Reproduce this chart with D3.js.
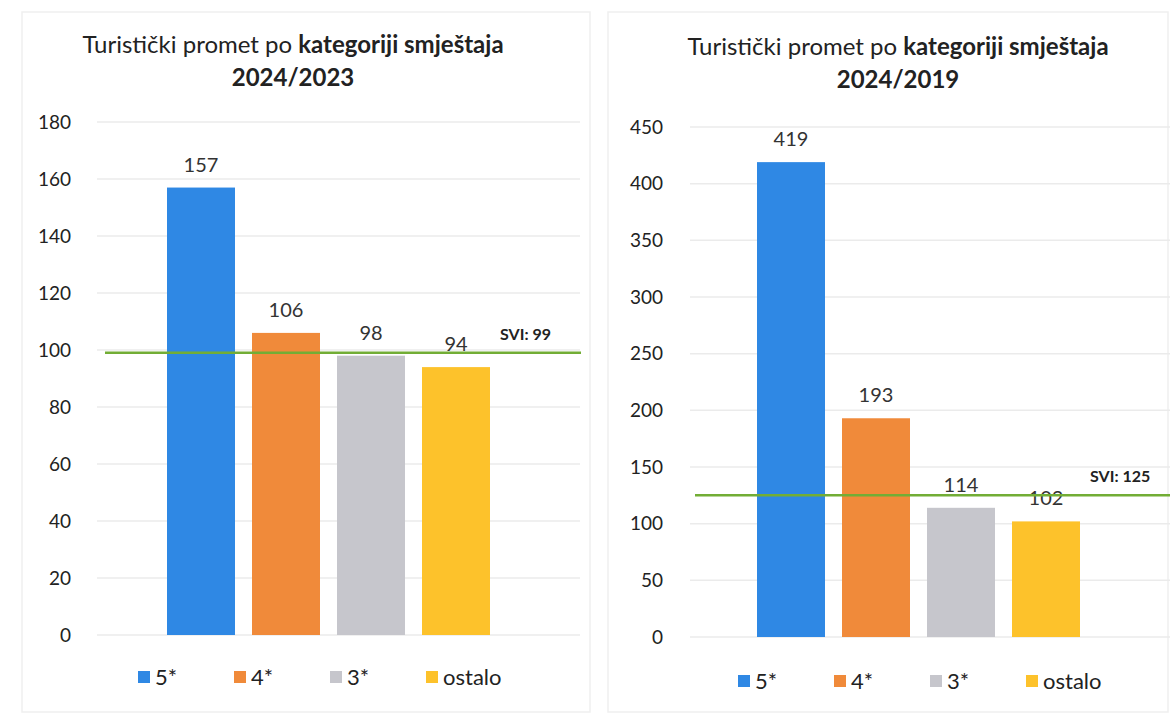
<!DOCTYPE html>
<html>
<head>
<meta charset="utf-8">
<script src="https://cdn.jsdelivr.net/npm/d3@7"></script>
<style>
  body { margin: 0; background: #fff; }
  svg { display: block; font-family: Lato, "Open Sans", sans-serif; }
  .tick text { fill: #222; }
</style>
</head>
<body>
<svg id="chart" width="1174" height="722"></svg>
<script>
// data
var categories = ["5*", "4*", "3*", "ostalo"];
var values2023 = [157, 106, 98, 94];
var values2019 = [419, 193, 114, 102];
var ticks2023 = [0, 20, 40, 60, 80, 100, 120, 140, 160, 180];
var ticks2019 = [0, 50, 100, 150, 200, 250, 300, 350, 400, 450];
var svi2023 = 99;
var svi2019 = 125;
var colors = ["#2f88e4", "#f08a3a", "#c6c6cc", "#fdc22b"];

var svg = d3.select("#chart");

function drawPanel(p) {
  var g = svg.append("g");

  // faint panel border like the scanned page
  g.append("rect")
    .attr("x", p.box[0]).attr("y", p.box[1])
    .attr("width", p.box[2]).attr("height", p.box[3])
    .attr("fill", "none").attr("stroke", "#efefef").attr("stroke-width", 1.5);

  var y = d3.scaleLinear().domain([0, p.max]).range([p.bottom, p.top]);
  var x = d3.scaleBand().domain(categories).range(p.bandRange).padding(0.2);

  // title
  var t = g.append("text").attr("x", p.titleX).attr("y", p.titleY)
    .attr("text-anchor", "middle").attr("font-size", 24).attr("fill", "#222");
  t.append("tspan").text("Turistički promet po ");
  t.append("tspan").attr("font-weight", "bold").text("kategoriji smještaja");
  g.append("text").attr("x", p.titleX).attr("y", p.titleY + 33)
    .attr("text-anchor", "middle").attr("font-size", 24).attr("font-weight", "bold")
    .attr("fill", "#222").text(p.period);

  // gridlines
  g.selectAll(".grid").data(p.ticks).enter().append("line")
    .attr("x1", p.gridX[0]).attr("x2", p.gridX[1])
    .attr("y1", function (d) { return y(d); }).attr("y2", function (d) { return y(d); })
    .attr("stroke", "#ebebeb").attr("stroke-width", 1.5);

  // y axis
  var ax = g.append("g").attr("transform", "translate(" + p.axisX + ",0)")
    .call(d3.axisLeft(y).tickValues(p.ticks).tickSize(0).tickPadding(0));
  ax.select(".domain").remove();
  ax.selectAll("text").attr("font-size", 19).attr("font-family", "Lato, sans-serif");

  // bars
  g.selectAll(".bar").data(p.values).enter().append("rect")
    .attr("x", function (d, i) { return x(categories[i]); })
    .attr("width", x.bandwidth())
    .attr("y", function (d) { return y(d); })
    .attr("height", function (d) { return p.bottom - y(d); })
    .attr("fill", function (d, i) { return colors[i]; });

  // value labels
  g.selectAll(".val").data(p.values).enter().append("text")
    .attr("x", function (d, i) { return x(categories[i]) + x.bandwidth() / 2; })
    .attr("y", function (d) { return y(d) - 16; })
    .attr("text-anchor", "middle").attr("font-size", 20).attr("fill", "#333")
    .text(function (d) { return d; });

  // SVI line
  g.append("line")
    .attr("x1", p.lineX[0]).attr("x2", p.lineX[1])
    .attr("y1", y(p.svi)).attr("y2", y(p.svi))
    .attr("stroke", "#72ad35").attr("stroke-width", 2.5);
  g.append("text").attr("x", p.sviX).attr("y", y(p.svi) - 13)
    .attr("font-size", 16).attr("font-weight", "bold").attr("fill", "#222")
    .text("SVI: " + p.svi);

  // legend
  var lg = g.selectAll(".leg").data(categories).enter().append("g")
    .attr("transform", function (d, i) { return "translate(" + (p.legendX + i * 96) + "," + p.legendY + ")"; });
  lg.append("rect").attr("x", 0).attr("y", -6).attr("width", 12).attr("height", 12)
    .attr("fill", function (d, i) { return colors[i]; });
  lg.append("text").attr("x", 17).attr("y", 8).attr("font-size", 22).attr("fill", "#222")
    .text(function (d) { return d; });
}

drawPanel({
  box: [22, 12, 568, 700],
  values: values2023, ticks: ticks2023, max: 180, svi: svi2023, period: "2024/2023",
  top: 122, bottom: 635, bandRange: [150, 507],
  gridX: [97, 580], axisX: 71, lineX: [105, 581], sviX: 500,
  titleX: 293, titleY: 53, legendX: 138, legendY: 677
});

drawPanel({
  box: [608, 12, 560, 700],
  values: values2019, ticks: ticks2019, max: 450, svi: svi2019, period: "2024/2019",
  top: 127, bottom: 637, bandRange: [740, 1097],
  gridX: [690, 1170], axisX: 663, lineX: [695, 1170], sviX: 1090,
  titleX: 898, titleY: 55, legendX: 738, legendY: 681
});
</script>
</body>
</html>
